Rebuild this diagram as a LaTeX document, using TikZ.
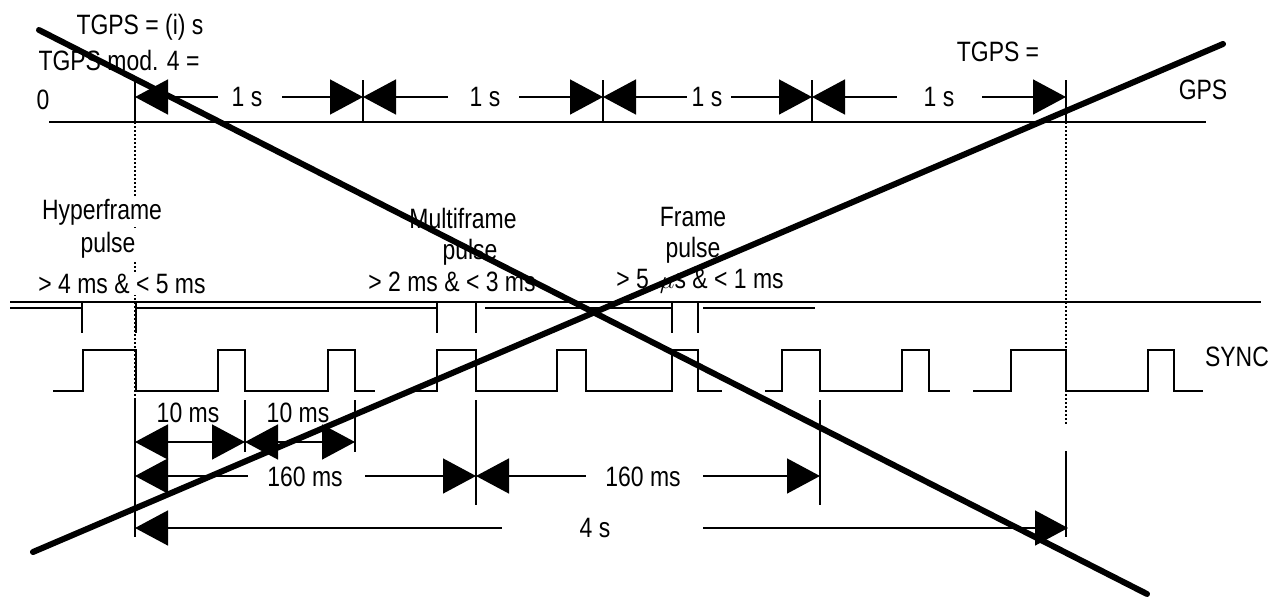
\documentclass[tikz,border=0pt]{standalone}
\usepackage{fontspec}
\setmainfont{Liberation Sans}[FakeStretch=0.82]
\usetikzlibrary{arrows.meta}
\begin{document}
\begin{tikzpicture}[x=1pt,y=-1pt,
  >={Triangle[length=33pt,width=35pt]},
  lbl/.style={font=\fontsize{28}{32}\selectfont, inner sep=0pt},
  lblw/.style={lbl, fill=white, inner sep=1.5pt},
  thinl/.style={line width=1.5pt},
  gpsline/.style={line width=2pt},
  wave/.style={line width=2pt, line join=miter},
  dotl/.style={line width=1.8pt, dash pattern=on 1.8pt off 2.2pt},
  cross/.style={line width=6pt, line cap=round},
]
\useasboundingbox (0,0) rectangle (1270,597);

% ---------------- GPS row ----------------
\coordinate (g0) at (49,122);
\coordinate (gE) at (1206,122);
\draw[gpsline] (g0) -- (gE);
\foreach \x/\n in {135/1,363/2,603/3,812/4,1066/5}{
  \coordinate (gt\n) at (\x,80);
  \coordinate (gb\n) at (\x,123);
  \coordinate (t\n) at (\x,97);
  \draw[thinl] (gt\n) -- (gb\n);
}
% gap ends of the 1 s dimension lines
\coordinate (a1l) at (218,97); \coordinate (a1r) at (282,97);
\coordinate (a2l) at (448,97); \coordinate (a2r) at (519,97);
\coordinate (a3l) at (687,97); \coordinate (a3r) at (731,97);
\coordinate (a4l) at (897,97); \coordinate (a4r) at (982,97);
\draw[thinl,<-] (t1) -- (a1l); \draw[thinl,->] (a1r) -- (t2);
\draw[thinl,<-] (t2) -- (a2l); \draw[thinl,->] (a2r) -- (t3);
\draw[thinl,<-] (t3) -- (a3l); \draw[thinl,->] (a3r) -- (t4);
\draw[thinl,<-] (t4) -- (a4l); \draw[thinl,->] (a4r) -- (t5);
\node[lbl] (s1) at (247,97) {1 s};
\node[lbl] (s2) at (485,97) {1 s};
\node[lbl] (s3) at (707,97) {1 s};
\node[lbl] (s4) at (939,97) {1 s};

\node[lbl] (tg1) at (140,27) {TGPS = (i) s};
\node[lbl] (tg2) at (119,60) {TGPS mod. 4 =};
\node[lbl] (tg0) at (43,100) {0};
\node[lbl] (tg3) at (998,52) {TGPS =};
\node[lbl] (gps) at (1203,90) {GPS};

% ---------------- dotted reference lines ----------------
\coordinate (d1t) at (135,122); \coordinate (d1b) at (135,400);
\coordinate (d2t) at (1066,122); \coordinate (d2b) at (1066,425);
\draw[dotl] (d1t) -- (d1b);
\draw[dotl] (d2t) -- (d2b);

% ---------------- pulse labels ----------------
\node[lblw] (hf1) at (102,212) {Hyperframe};
\node[lblw] (hf2) at (108,245) {pulse};
\node[lblw] (hf3) at (122,284) {> 4 ms \& < 5 ms};
\node[lbl] (mf1) at (463,218) {Multiframe};
\node[lbl] (mf2) at (470,252) {pulse};
\node[lbl] (mf3) at (452,282) {> 2 ms \& < 3 ms};
\node[lbl] (fr1) at (693,217) {Frame};
\node[lbl] (fr2) at (693,250) {pulse};
\node[lbl] (fr3) at (700,281) {> 5 \,$\mu$s \& < 1 ms};

% ---------------- double line above SYNC ----------------
\draw[line width=2.5pt] (10,302) -- (1261,302);
\draw[thinl] (10,308) -- (82,308);
\draw[thinl] (136,308) -- (437,308);
\draw[thinl] (485,308) -- (672,308);
\draw[thinl] (703,308) -- (815,308);
\foreach \x in {82,136,437,476,672,698}{
  \draw[thinl] (\x,302) -- (\x,333);
}

% ---------------- SYNC waveform ----------------
\draw[wave] (53,391) -- (83,391) -- (83,350) -- (136,350) -- (136,391)
  -- (218,391) -- (218,350) -- (245,350) -- (245,391)
  -- (328,391) -- (328,350) -- (355,350) -- (355,391) -- (375,391);
\draw[wave] (412,391) -- (437,391) -- (437,350) -- (476,350) -- (476,391)
  -- (557,391) -- (557,350) -- (586,350) -- (586,391)
  -- (672,391) -- (672,350) -- (698,350) -- (698,391) -- (722,391);
\draw[wave] (765,391) -- (782,391) -- (782,350) -- (820,350) -- (820,391)
  -- (902,391) -- (902,350) -- (929,350) -- (929,391) -- (950,391);
\draw[wave] (973,391) -- (1011,391) -- (1011,350) -- (1066,350) -- (1066,391)
  -- (1148,391) -- (1148,350) -- (1174,350) -- (1174,391) -- (1203,391);
\node[lbl] (sync) at (1237,357) {SYNC};

% ---------------- lower dimension lines ----------------
\coordinate (v1t) at (135,400);  \coordinate (v1b) at (135,537);
\coordinate (v2t) at (245,400);  \coordinate (v2b) at (245,452);
\coordinate (v3t) at (355,400);  \coordinate (v3b) at (355,452);
\coordinate (v4t) at (476,400);  \coordinate (v4b) at (476,505);
\coordinate (v5t) at (820,400);  \coordinate (v5b) at (820,505);
\coordinate (v6t) at (1066,451); \coordinate (v6b) at (1066,537);
\foreach \n in {1,...,6}{ \draw[thinl] (v\n t) -- (v\n b); }

% 10 ms
\coordinate (m1) at (135,442); \coordinate (m2) at (245,442); \coordinate (m3) at (355,442);
\draw[thinl,<->] (m1) -- (m2);
\draw[thinl,<->] (m2) -- (m3);
\node[lbl] (ms1) at (188,413) {10 ms};
\node[lbl] (ms2) at (298,413) {10 ms};

% 160 ms
\coordinate (k1) at (135,476); \coordinate (k2) at (476,476); \coordinate (k3) at (820,476);
\coordinate (k1l) at (248,476); \coordinate (k1r) at (365,476);
\coordinate (k2l) at (586,476); \coordinate (k2r) at (703,476);
\draw[thinl,<-] (k1) -- (k1l); \draw[thinl,->] (k1r) -- (k2);
\draw[thinl,<-] (k2) -- (k2l); \draw[thinl,->] (k2r) -- (k3);
\node[lbl] (c1) at (305,477) {160 ms};
\node[lbl] (c2) at (643,477) {160 ms};

% 4 s
\coordinate (f1) at (135,528); \coordinate (f2) at (1068,528);
\coordinate (f1l) at (502,528); \coordinate (f1r) at (703,528);
\draw[thinl,<-] (f1) -- (f1l); \draw[thinl,->] (f1r) -- (f2);
\node[lbl] (fs) at (595,528) {4 s};

% ---------------- big cross ----------------
\coordinate (x1a) at (39,30);  \coordinate (x1b) at (1147,594);
\coordinate (x2a) at (33,552); \coordinate (x2b) at (1223,44);
\draw[cross] (x1a) -- (x1b);
\draw[cross] (x2a) -- (x2b);
\end{tikzpicture}
\end{document}
